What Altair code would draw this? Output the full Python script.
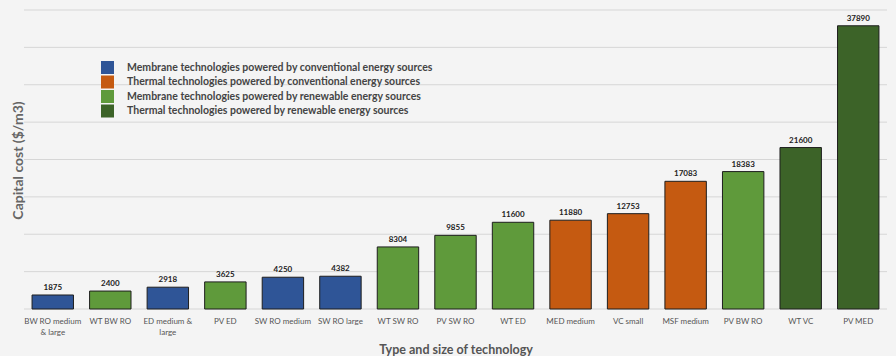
import altair as alt
import pandas as pd

categories = ["BW RO medium|& large", "WT BW RO", "ED medium &|large", "PV ED",
              "SW RO medium", "SW RO large", "WT SW RO", "PV SW RO", "WT ED",
              "MED medium", "VC small", "MSF medium", "PV BW RO", "WT VC", "PV MED"]
values = [1875, 2400, 2918, 3625, 4250, 4382, 8304, 9855, 11600, 11880,
          12753, 17083, 18383, 21600, 37890]
g_mc = "Membrane technologies powered by conventional energy sources"
g_tc = "Thermal technologies powered by conventional energy sources"
g_mr = "Membrane technologies powered by renewable energy sources"
g_tr = "Thermal technologies powered by renewable energy sources"
groups = [g_mc, g_mr, g_mc, g_mr, g_mc, g_mc, g_mr, g_mr, g_mr,
          g_tc, g_tc, g_tc, g_mr, g_tr, g_tr]
legend_order = [g_mc, g_tc, g_mr, g_tr]
colors = ["#2f5597", "#c55a11", "#5f9a3b", "#3c6328"]
grid_values = [0, 5000, 10000, 15000, 20000, 25000, 30000, 35000, 40000]

df = pd.DataFrame({"tech": categories, "cost": values, "group": groups})
gdf = pd.DataFrame({"cost": grid_values})

FONT = "Lato"

x = alt.X("tech:N", sort=None, scale=alt.Scale(paddingInner=0.28, paddingOuter=0.14),
          axis=alt.Axis(title="Type and size of technology", labelAngle=0,
                        labelExpr="split(datum.label, '|')", labelFontSize=8,
                        labelColor="#555555", labelPadding=8, ticks=False,
                        domain=False, titleFontSize=12.5, titleFontWeight="bold",
                        titleColor="#555555", titleY=40, titleBaseline="middle",
                        labelLineHeight=11, grid=False))
y_axis = alt.Axis(title="Capital cost ($/m3)", labels=False, ticks=False,
                  domain=False, grid=False,
                  titleFontSize=14, titleFontWeight="bold", titleColor="#666666",
                  titleAngle=-90, titleX=-6, titleY=150, titleAlign="center",
                  titleBaseline="middle")
y_scale = alt.Scale(domain=[0, 40000], nice=False)

grid = alt.Chart(gdf).mark_rule(color="#d6d6d6", strokeWidth=1).encode(
    y=alt.Y("cost:Q", scale=y_scale, axis=y_axis))

bars = alt.Chart(df).mark_bar(stroke="#1e1e1e", strokeWidth=1).encode(
    x=x, y=alt.Y("cost:Q", scale=y_scale, axis=y_axis),
    color=alt.Color("group:N", scale=alt.Scale(domain=legend_order, range=colors),
                    legend=alt.Legend(title=None, orient="none", legendX=77, legendY=51,
                                      symbolType="square", symbolSize=169,
                                      symbolStrokeWidth=0, labelFontSize=10.5,
                                      labelFontWeight="bold", labelColor="#444444",
                                      labelOffset=13, rowPadding=1.5, labelLimit=400))
)
labels = alt.Chart(df).mark_text(dy=-7, fontSize=8, fontWeight="bold",
                                 color="#222222", font=FONT).encode(
    x=alt.X("tech:N", sort=None), y=alt.Y("cost:Q"), text="cost:Q")

chart = alt.layer(grid, bars, labels).properties(
    width=863, height=299,
    autosize=alt.AutoSizeParams(type="none"),
    padding={"left": 24, "top": 10, "right": 9, "bottom": 47},
    background="#f4f4f4",
).configure(font=FONT).configure_view(stroke=None)

chart.save("out.html", embed_options={"renderer": "svg", "actions": False})
